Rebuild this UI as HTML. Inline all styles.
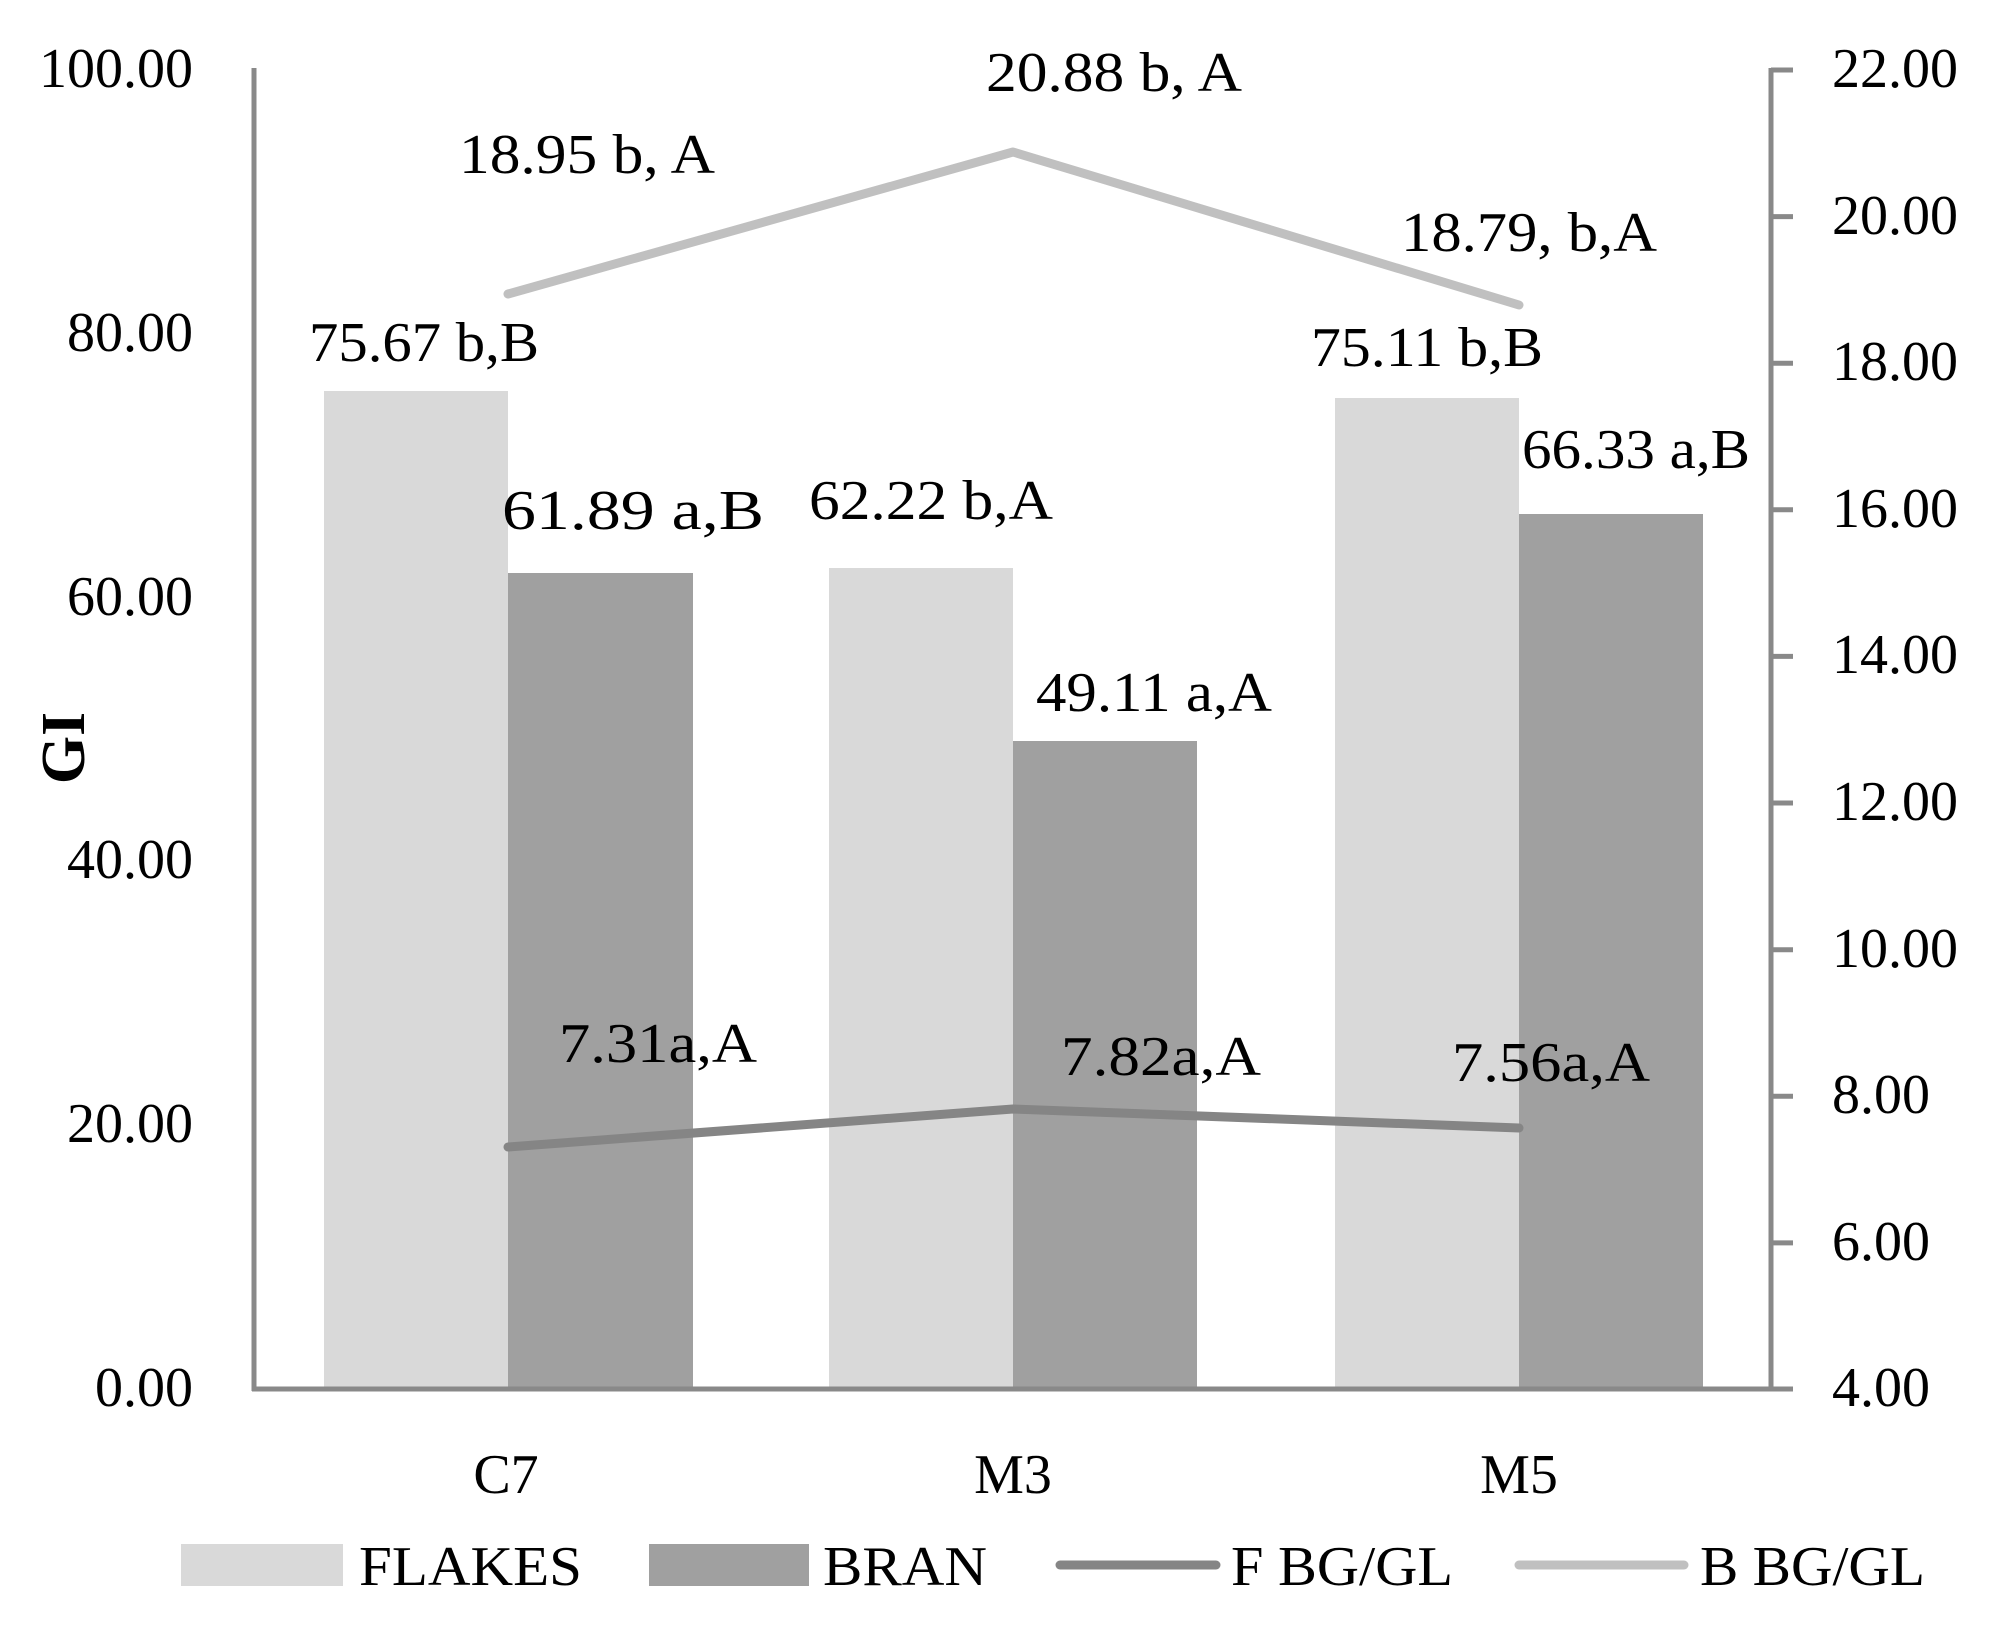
<!DOCTYPE html>
<html><head><meta charset="utf-8"><style>
html,body{margin:0;padding:0;background:#fff;}
svg{display:block;}
text{font-family:"Liberation Serif",serif;fill:#000;}
</style></head><body>
<svg width="1993" height="1626" viewBox="0 0 1993 1626" xmlns="http://www.w3.org/2000/svg">
<g>
<rect x="324" y="391" width="184" height="998" fill="#d9d9d9"/>
<rect x="508" y="573" width="185" height="816" fill="#a0a0a0"/>
<rect x="829" y="568" width="184" height="821" fill="#d9d9d9"/>
<rect x="1013" y="741" width="184" height="648" fill="#a0a0a0"/>
<rect x="1335" y="398" width="184" height="991" fill="#d9d9d9"/>
<rect x="1519" y="514" width="184" height="875" fill="#a0a0a0"/>
</g>
<g stroke="#898989" stroke-width="5" fill="none">
<line x1="254" y1="68" x2="254" y2="1391"/>
<line x1="252" y1="1389" x2="1774" y2="1389"/>
<line x1="1771" y1="68" x2="1771" y2="1391"/>
<line x1="1771" y1="70" x2="1793" y2="70"/>
<line x1="1771" y1="216.6" x2="1793" y2="216.6"/>
<line x1="1771" y1="363.2" x2="1793" y2="363.2"/>
<line x1="1771" y1="509.8" x2="1793" y2="509.8"/>
<line x1="1771" y1="656.4" x2="1793" y2="656.4"/>
<line x1="1771" y1="803" x2="1793" y2="803"/>
<line x1="1771" y1="949.7" x2="1793" y2="949.7"/>
<line x1="1771" y1="1096.3" x2="1793" y2="1096.3"/>
<line x1="1771" y1="1242.9" x2="1793" y2="1242.9"/>
<line x1="1771" y1="1389" x2="1793" y2="1389"/>
</g>
<polyline points="508,294 1013,152 1519,305" fill="none" stroke="#c0c0c0" stroke-width="9" stroke-linecap="round" stroke-linejoin="round"/>
<polyline points="508,1147 1013,1109 1519,1128" fill="none" stroke="#858585" stroke-width="9" stroke-linecap="round" stroke-linejoin="round"/>
<g font-size="56" text-anchor="end">
<text x="193" y="87">100.00</text>
<text x="193" y="351">80.00</text>
<text x="193" y="615">60.00</text>
<text x="193" y="878">40.00</text>
<text x="193" y="1142">20.00</text>
<text x="193" y="1406">0.00</text>
</g>
<g font-size="56">
<text x="1832" y="87">22.00</text>
<text x="1832" y="234">20.00</text>
<text x="1832" y="380">18.00</text>
<text x="1832" y="527">16.00</text>
<text x="1832" y="673">14.00</text>
<text x="1832" y="820">12.00</text>
<text x="1832" y="967">10.00</text>
<text x="1832" y="1113">8.00</text>
<text x="1832" y="1260">6.00</text>
<text x="1832" y="1406">4.00</text>
</g>
<text x="0" y="0" font-size="62" font-weight="bold" text-anchor="middle" transform="translate(84,748) rotate(-90)">GI</text>
<g font-size="56">
<text x="459" y="173" textLength="256" lengthAdjust="spacingAndGlyphs">18.95 b, A</text>
<text x="986" y="91" textLength="256" lengthAdjust="spacingAndGlyphs">20.88 b, A</text>
<text x="1401" y="251" textLength="256" lengthAdjust="spacingAndGlyphs">18.79, b,A</text>
<text x="309" y="361" textLength="230" lengthAdjust="spacingAndGlyphs">75.67 b,B</text>
<text x="502" y="529" textLength="262" lengthAdjust="spacingAndGlyphs">61.89 a,B</text>
<text x="809" y="519" textLength="244" lengthAdjust="spacingAndGlyphs">62.22 b,A</text>
<text x="1036" y="711" textLength="236" lengthAdjust="spacingAndGlyphs">49.11 a,A</text>
<text x="1311" y="366" textLength="232" lengthAdjust="spacingAndGlyphs">75.11 b,B</text>
<text x="1522" y="468" textLength="228" lengthAdjust="spacingAndGlyphs">66.33 a,B</text>
<text x="559" y="1062" textLength="198" lengthAdjust="spacingAndGlyphs">7.31a,A</text>
<text x="1061" y="1075" textLength="200" lengthAdjust="spacingAndGlyphs">7.82a,A</text>
<text x="1452" y="1081" textLength="198" lengthAdjust="spacingAndGlyphs">7.56a,A</text>
</g>
<g font-size="56" text-anchor="middle">
<text x="506" y="1493">C7</text>
<text x="1013" y="1493">M3</text>
<text x="1519" y="1493">M5</text>
</g>
<rect x="181" y="1544" width="162" height="42" fill="#d9d9d9"/>
<rect x="649" y="1544" width="160" height="42" fill="#a0a0a0"/>
<line x1="1060" y1="1565" x2="1216" y2="1565" stroke="#858585" stroke-width="9" stroke-linecap="round"/>
<line x1="1519" y1="1565" x2="1684" y2="1565" stroke="#c0c0c0" stroke-width="9" stroke-linecap="round"/>
<g font-size="56">
<text x="359" y="1585" textLength="223" lengthAdjust="spacingAndGlyphs">FLAKES</text>
<text x="823" y="1585" textLength="164" lengthAdjust="spacingAndGlyphs">BRAN</text>
<text x="1231" y="1585" textLength="222" lengthAdjust="spacingAndGlyphs">F BG/GL</text>
<text x="1700" y="1585" textLength="225" lengthAdjust="spacingAndGlyphs">B BG/GL</text>
</g>
</svg>
</body></html>
